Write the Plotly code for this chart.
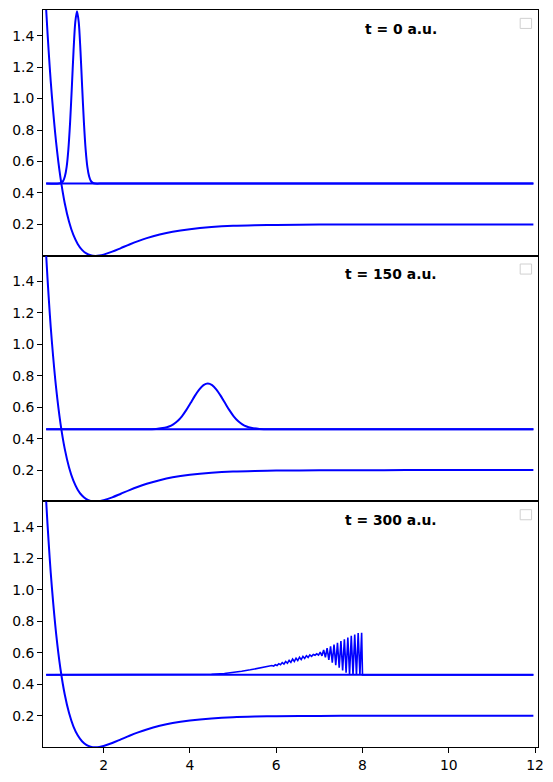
import plotly.graph_objects as go
from plotly.subplots import make_subplots

# ---------------- data ----------------
x_morse = [0.67, 0.70, 0.75, 0.80, 0.90, 1.00, 1.10, 1.20, 1.30, 1.40, 1.50, 1.60, 1.70, 1.81,
           1.90, 2.00, 2.20, 2.40, 2.60, 2.80, 3.00, 3.30, 3.60, 4.00, 4.50, 5.00, 5.50, 6.00,
           7.00, 8.00, 9.00, 10.00, 11.00, 11.96]
v_morse = [1.563, 1.420, 1.206, 1.022, 0.722, 0.499, 0.335, 0.217, 0.133, 0.0758, 0.0382, 0.0155,
           0.0038, 0.0, 0.002, 0.0079, 0.0269, 0.0497, 0.0728, 0.0941, 0.113, 0.136, 0.154, 0.170,
           0.183, 0.191, 0.195, 0.197, 0.199, 0.1997, 0.1999, 0.2, 0.2, 0.2]

energy_level = 0.46
x_energy = [0.67, 11.96]

# wave packet at t = 0 a.u.
x_wp0 = [0.67, 0.964, 1.024, 1.064, 1.104, 1.144, 1.184, 1.224, 1.264, 1.304, 1.344, 1.384,
         1.424, 1.464, 1.504, 1.544, 1.584, 1.624, 1.664, 1.704, 1.744, 1.804, 2.0, 11.96]
y_wp0 = [0.46, 0.46, 0.466, 0.477, 0.506, 0.566, 0.677, 0.849, 1.071, 1.305, 1.486, 1.555,
         1.486, 1.305, 1.071, 0.849, 0.677, 0.566, 0.506, 0.477, 0.466, 0.46, 0.46, 0.46]

# wave packet at t = 150 a.u.
x_wp150 = [0.67, 2.915, 3.215, 3.415, 3.515, 3.615, 3.715, 3.815, 3.915, 4.015, 4.115, 4.215,
           4.315, 4.415, 4.515, 4.615, 4.715, 4.815, 4.915, 5.015, 5.115, 5.215, 5.315, 5.415,
           5.615, 5.915, 6.2, 11.96]
y_wp150 = [0.46, 0.46, 0.462, 0.469, 0.477, 0.491, 0.512, 0.542, 0.581, 0.626, 0.672, 0.712,
           0.740, 0.750, 0.740, 0.712, 0.672, 0.626, 0.581, 0.542, 0.512, 0.491, 0.477, 0.469,
           0.462, 0.46, 0.46, 0.46]

# wave packet at t = 300 a.u.
x_wp300 = [0.67, 4.00, 4.20, 4.50, 4.80, 5.00, 5.20, 5.40, 5.60, 5.80,
           5.90, 5.94, 5.98, 6.02, 6.06, 6.10, 6.14, 6.18, 6.22, 6.26, 6.30, 6.34, 6.38, 6.42,
           6.46, 6.50, 6.54, 6.58, 6.62, 6.66, 6.70, 6.74, 6.78, 6.82, 6.86, 6.90, 6.94, 6.98,
           7.02, 7.06, 7.10, 7.14, 7.18, 7.22, 7.26, 7.30, 7.34, 7.38, 7.42, 7.46, 7.50, 7.54,
           7.58, 7.62, 7.66, 7.70, 7.74, 7.78, 7.82, 7.86, 7.90, 7.94, 7.98, 8.00, 8.02, 11.96]
y_wp300 = [0.46, 0.46, 0.461, 0.464, 0.469, 0.475, 0.483, 0.492, 0.502, 0.512,
           0.519, 0.515, 0.524, 0.519, 0.531, 0.524, 0.538, 0.529, 0.545, 0.534, 0.552, 0.539,
           0.560, 0.545, 0.566, 0.551, 0.572, 0.557, 0.577, 0.564, 0.582, 0.571, 0.587, 0.578,
           0.590, 0.585, 0.594, 0.586, 0.604, 0.581, 0.618, 0.572, 0.630, 0.555, 0.641, 0.538,
           0.652, 0.522, 0.664, 0.505, 0.675, 0.488, 0.686, 0.474, 0.697, 0.463, 0.708, 0.460,
           0.717, 0.460, 0.726, 0.460, 0.728, 0.46, 0.46, 0.46]

panel_labels = ["t = 0 a.u.", "t = 150 a.u.", "t = 300 a.u."]
x_ticks = [2, 4, 6, 8, 10, 12]
y_ticks = [0.2, 0.4, 0.6, 0.8, 1.0, 1.2, 1.4]

# ---------------- figure ----------------
BLUE = "#0000ff"
FONT = "DejaVu Sans"

fig = make_subplots(rows=3, cols=1, shared_xaxes=True, vertical_spacing=0)

packets = [(x_wp0, y_wp0, "spline"), (x_wp150, y_wp150, "spline"), (x_wp300, y_wp300, "linear")]
for i, (xw, yw, shape) in enumerate(packets, start=1):
    fig.add_trace(go.Scatter(x=x_morse, y=v_morse, mode="lines", line=dict(color=BLUE, width=2, shape="spline", smoothing=0.8)), row=i, col=1)
    fig.add_trace(go.Scatter(x=x_energy, y=[energy_level] * len(x_energy), mode="lines", line=dict(color=BLUE, width=2)), row=i, col=1)
    if shape == "spline":
        fig.add_trace(go.Scatter(x=xw, y=yw, mode="lines", line=dict(color=BLUE, width=2, shape="spline", smoothing=0.8)), row=i, col=1)
    else:
        fig.add_trace(go.Scatter(x=xw, y=yw, mode="lines", line=dict(color=BLUE, width=1.6)), row=i, col=1)

for i in range(1, 4):
    fig.update_xaxes(range=[0.596, 12.067], tickvals=x_ticks, showline=True, mirror=True,
                     linecolor="black", linewidth=1, showgrid=False, zeroline=False,
                     ticks="outside" if i == 3 else "", ticklen=5, tickwidth=1, tickcolor="black",
                     showticklabels=(i == 3), tickfont=dict(family=FONT, size=13.9, color="black"),
                     row=i, col=1)
    fig.update_yaxes(range=[0.0015, 1.563], tickvals=y_ticks, ticktext=[f"{v:.1f}" for v in y_ticks],
                     showline=True, mirror=True, linecolor="black", linewidth=1, showgrid=False,
                     zeroline=False, ticks="outside", ticklen=5, tickwidth=1, tickcolor="black",
                     tickfont=dict(family=FONT, size=13.9, color="black"), row=i, col=1)

axis_names = ["", "2", "3"]
for i, label in enumerate(panel_labels):
    ax = axis_names[i]
    fig.add_annotation(text=f"<b>{label}</b>", xref=f"x{ax} domain", yref=f"y{ax} domain",
                       x=0.8, y=0.924, xanchor="right", yanchor="middle", showarrow=False,
                       font=dict(family=FONT, size=13.9, color="black"))
    # empty legend frame
    fig.add_shape(type="rect", xref=f"x{ax} domain", yref=f"y{ax} domain",
                  x0=0.964, x1=0.987, y0=0.925, y1=0.966,
                  line=dict(color="#d0d0d0", width=1), fillcolor="rgba(255,255,255,0.8)")

fig.update_layout(width=553, height=782, showlegend=False,
                  margin=dict(l=43, r=15, t=9, b=34),
                  plot_bgcolor="white", paper_bgcolor="white",
                  font=dict(family=FONT, color="black"))

fig.write_html("out.html")
